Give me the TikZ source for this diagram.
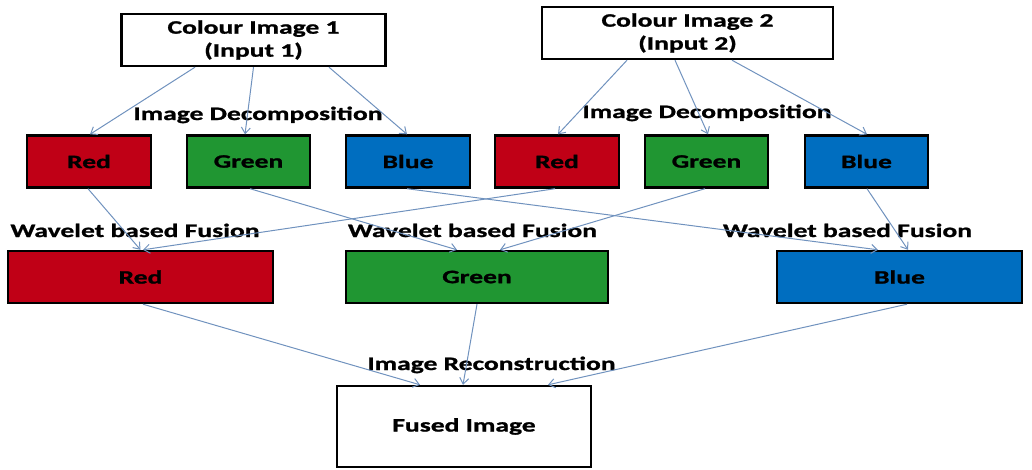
\documentclass[tikz,border=0pt]{standalone}
\usepackage{fontspec}
\setmainfont{Carlito}[FakeStretch=1.45,BoldFeatures={FakeBold=1.2}]
\usepackage{xcolor}
\usepackage{tikz}
\usetikzlibrary{arrows.meta}
\definecolor{chred}{RGB}{192,0,22}
\definecolor{chgreen}{RGB}{32,150,50}
\definecolor{chblue}{RGB}{0,110,192}
\definecolor{linkblue}{RGB}{112,146,190}

\begin{document}
\begin{tikzpicture}[x=1pt,y=-1pt,>={Straight Barb[length=6pt,width=9pt]},
  box/.style={draw=black,line width=2.4pt,minimum height=52pt,inner sep=0pt,
    align=center,font=\fontsize{19}{23}\selectfont\bfseries},
  stage/.style={anchor=base,inner sep=0pt,font=\fontsize{19}{23}\selectfont\bfseries},
  link/.style={->,linkblue,line width=1pt}]
  \useasboundingbox (0,0) rectangle (1032,469);
  \node[box,minimum width=264pt] (in1) at (253.5,40) {Colour Image 1\\(Input 1)};
  \node[box,minimum width=291pt] (in2) at (687.5,33) {Colour Image 2\\(Input 2)};
  \node[box,fill=chred,minimum width=124pt] (r1) at (89,161.5) {Red};
  \node[box,fill=chgreen,minimum width=123pt] (g1) at (248.5,161.5) {Green};
  \node[box,fill=chblue,minimum width=124pt] (b1) at (408,161.5) {Blue};
  \node[box,fill=chred,minimum width=124pt] (r2) at (557,161.5) {Red};
  \node[box,fill=chgreen,minimum width=123pt] (g2) at (706.5,161.5) {Green};
  \node[box,fill=chblue,minimum width=123pt] (b2) at (866.5,161.5) {Blue};
  \node[box,fill=chred,minimum width=265pt] (mr) at (140.5,277) {Red};
  \node[box,fill=chgreen,minimum width=262pt] (mg) at (477,277) {Green};
  \node[box,fill=chblue,minimum width=245pt] (mb) at (899.5,277) {Blue};
  \node[box,minimum width=254pt,minimum height=81pt] (fused) at (464,426.5) {Fused Image};
  \node[stage] (dec1) at (258,120) {Image Decomposition};
  \node[stage] (dec2) at (707,118) {Image Decomposition};
  \node[stage] (fus1) at (135,237) {Wavelet based Fusion};
  \node[stage] (fus2) at (472.5,237) {Wavelet based Fusion};
  \node[stage] (fus3) at (847.5,237) {Wavelet based Fusion};
  \node[stage] (rec) at (491.5,370) {Image Reconstruction};
  \draw[link] ([xshift=-58.5pt]in1.south) -- ([xshift=1pt]r1.north);
  \draw[link] (in1.south) -- ([xshift=-3.5pt]g1.north);
  \draw[link] ([xshift=75.5pt]in1.south) -- ([xshift=-1pt]b1.north);
  \draw[link] ([xshift=-60.5pt]in2.south) -- ([xshift=1pt]r2.north);
  \draw[link] ([xshift=-12.5pt]in2.south) -- ([xshift=1.5pt]g2.north);
  \draw[link] ([xshift=44.5pt]in2.south) -- ([xshift=0.5pt]b2.north);
  \draw[link] ([xshift=-1pt]r1.south) -- (mr.north);
  \draw[link] ([xshift=-2pt]r2.south) -- ([xshift=2.5pt]mr.north);
  \draw[link] ([xshift=1.5pt]g1.south) -- ([xshift=-20pt]mg.north);
  \draw[link] ([xshift=-1.5pt]g2.south) -- ([xshift=23pt]mg.north);
  \draw[link] ([xshift=-1pt]b1.south) -- ([xshift=-21.5pt]mb.north);
  \draw[link] ([xshift=0.5pt]b2.south) -- ([xshift=8.5pt]mb.north);
  \draw[link] ([xshift=2.5pt]mr.south) -- ([xshift=-44pt]fused.north);
  \draw[link] (mg.south) -- ([xshift=-1pt]fused.north);
  \draw[link] ([xshift=7.5pt]mb.south) -- ([xshift=84pt]fused.north);
\end{tikzpicture}
\end{document}
